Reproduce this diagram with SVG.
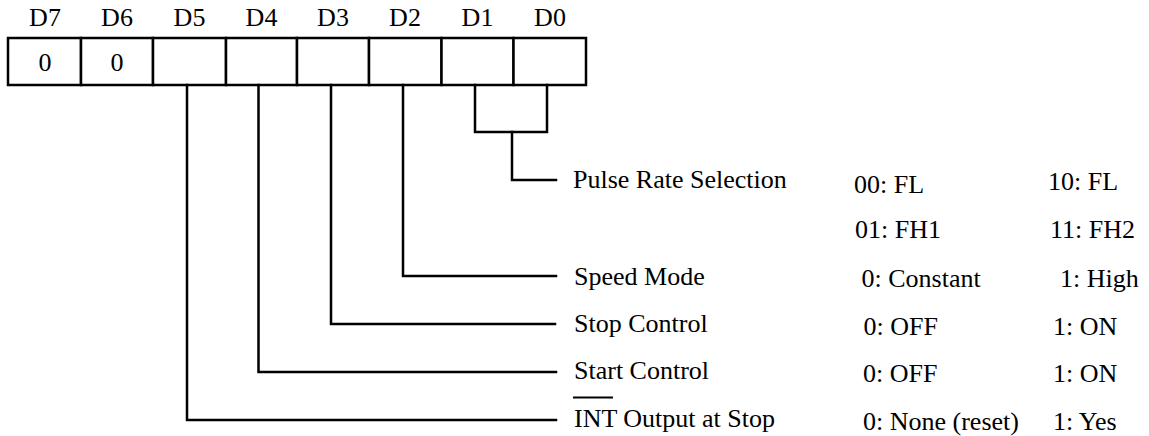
<svg xmlns="http://www.w3.org/2000/svg" width="1149" height="436" viewBox="0 0 1149 436">
  <style>
    text { font-family: "Liberation Serif", "Times New Roman", serif; font-size: 26px; fill: #000; }
    .mid { text-anchor: middle; }
    .cell { fill: #fff; stroke: #000; stroke-width: 2.5; }
    .wire { fill: none; stroke: #000; stroke-width: 2.5; stroke-linejoin: miter; stroke-linecap: square; }
  </style>
  <rect width="1149" height="436" fill="#fff"/>

  <!-- register: bit cells with headers -->
  <g id="bit-d7">
    <rect class="cell" x="8" y="38" width="73" height="47"/>
    <text class="mid" x="45" y="26">D7</text>
    <text class="mid" x="45" y="71">0</text>
  </g>
  <g id="bit-d6">
    <rect class="cell" x="81" y="38" width="72" height="47"/>
    <text class="mid" x="117" y="26">D6</text>
    <text class="mid" x="117" y="71">0</text>
  </g>
  <g id="bit-d5">
    <rect class="cell" x="153" y="38" width="73" height="47"/>
    <text class="mid" x="189.5" y="26">D5</text>
  </g>
  <g id="bit-d4">
    <rect class="cell" x="226" y="38" width="71" height="47"/>
    <text class="mid" x="261.5" y="26">D4</text>
  </g>
  <g id="bit-d3">
    <rect class="cell" x="297" y="38" width="72" height="47"/>
    <text class="mid" x="333" y="26">D3</text>
  </g>
  <g id="bit-d2">
    <rect class="cell" x="369" y="38" width="72.5" height="47"/>
    <text class="mid" x="405" y="26">D2</text>
  </g>
  <g id="bit-d1">
    <rect class="cell" x="441.5" y="38" width="72" height="47"/>
    <text class="mid" x="477.5" y="26">D1</text>
  </g>
  <g id="bit-d0">
    <rect class="cell" x="513.5" y="38" width="72.5" height="47"/>
    <text class="mid" x="550" y="26">D0</text>
  </g>

  <!-- connectors from bits to field labels -->
  <g id="connectors">
    <path class="wire" d="M475 85 V132 H547 V85"/>
    <path class="wire" d="M512 132 V180 H556"/>
    <path class="wire" d="M403 85 V276 H556"/>
    <path class="wire" d="M331 85 V324 H555"/>
    <path class="wire" d="M258.5 85 V372 H556"/>
    <path class="wire" d="M187 85 V420 H556"/>
  </g>

  <!-- field names -->
  <g id="field-pulse-rate">
    <text x="573" y="188">Pulse Rate Selection</text>
    <text x="854" y="193">00: FL</text>
    <text x="1048" y="190">10: FL</text>
    <text x="855" y="238">01: FH1</text>
    <text x="1050" y="238">11: FH2</text>
  </g>
  <g id="field-speed-mode">
    <text x="574" y="285">Speed Mode</text>
    <text x="861.5" y="287">0: Constant</text>
    <text x="1060" y="287">1: High</text>
  </g>
  <g id="field-stop-control">
    <text x="574" y="332">Stop Control</text>
    <text x="863.5" y="335">0: OFF</text>
    <text x="1053" y="335">1: ON</text>
  </g>
  <g id="field-start-control">
    <text x="574" y="379">Start Control</text>
    <text x="863" y="382">0: OFF</text>
    <text x="1053" y="382">1: ON</text>
  </g>
  <g id="field-int-output">
    <line x1="573" y1="397.5" x2="613" y2="397.5" stroke="#000" stroke-width="2"/>
    <text x="574" y="427">INT Output at Stop</text>
    <text x="863" y="430">0: None (reset)</text>
    <text x="1053" y="430">1: Yes</text>
  </g>
</svg>
